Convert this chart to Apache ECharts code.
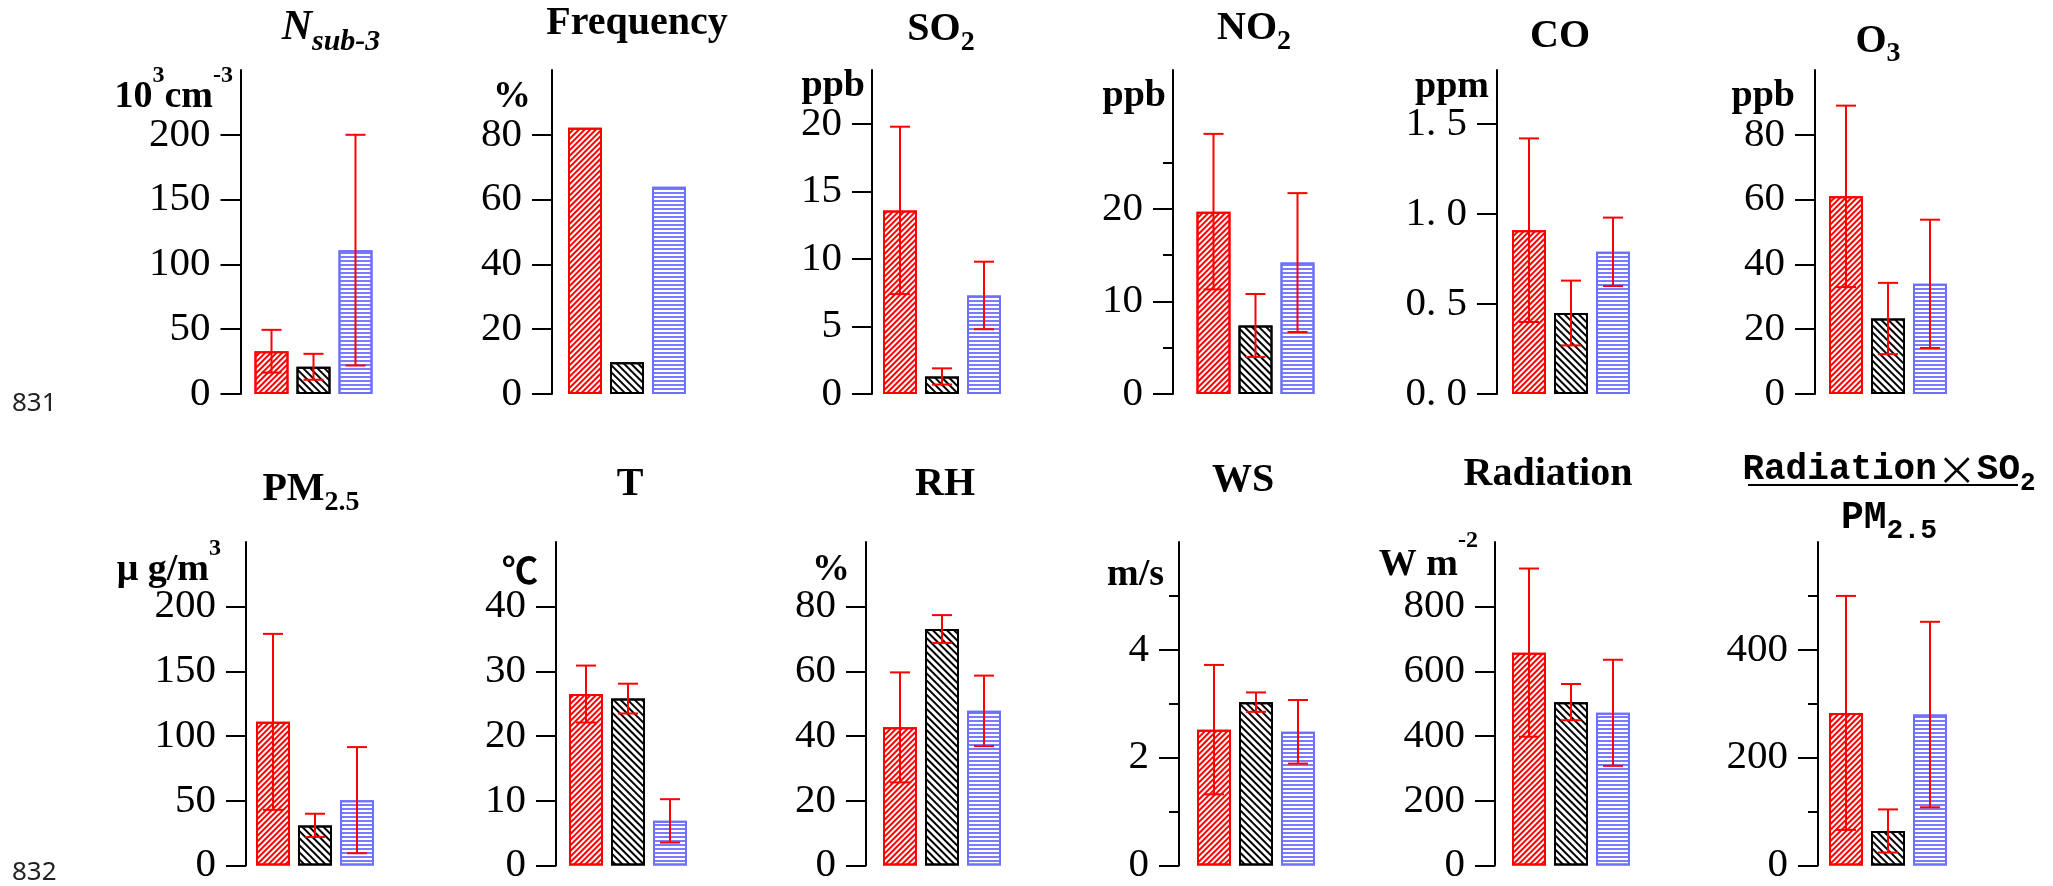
<!DOCTYPE html>
<html>
<head>
<meta charset="utf-8">
<script src="https://cdn.jsdelivr.net/npm/echarts@6/dist/echarts.min.js"></script>
<style>
  html, body { margin: 0; padding: 0; background: #fff; }
  #chart { width: 2053px; height: 886px; }
</style>
</head>
<body>
<div id="chart"></div>
<script>
// three groups shown in every panel (red / black / blue bars)
const categories = ['Group 1', 'Group 2', 'Group 3'];

// mean values and standard deviations
const nsubMean = [33, 21, 111];
const nsubSd = [16.5, 10, 89];
const freqMean = [82.2, 9.8, 64.0];
const so2Mean = [13.6, 1.3, 7.3];
const so2Sd = [6.2, 0.6, 2.5];
const no2Mean = [19.7, 7.4, 14.2];
const no2Sd = [8.4, 3.4, 7.5];
const coMean = [0.91, 0.45, 0.79];
const coSd = [0.51, 0.18, 0.19];
const o3Mean = [61, 23.3, 34];
const o3Sd = [28, 11, 19.8];
const pmMean = [111, 31, 50.5];
const pmSd = [68, 9, 41];
const tMean = [26.5, 25.8, 6.9];
const tSd = [4.4, 2.3, 3.35];
const rhMean = [42.7, 73.1, 47.8];
const rhSd = [17, 4.3, 10.9];
const wsMean = [2.52, 3.03, 2.48];
const wsSd = [1.2, 0.18, 0.59];
const radMean = [658, 505, 472];
const radSd = [260, 56, 164];
const ratioMean = [283, 64, 280];
const ratioSd = [217, 40, 172];

// tick values
const nsubTicks = [0, 50, 100, 150, 200];
const freqTicks = [0, 20, 40, 60, 80];
const so2Ticks = [0, 5, 10, 15, 20];
const no2Ticks = [0, 10, 20];
const no2Minor = [5, 15, 25];
const coTicks = [0, 0.5, 1, 1.5];
const o3Ticks = [0, 20, 40, 60, 80];
const pmTicks = [0, 50, 100, 150, 200];
const tTicks = [0, 10, 20, 30, 40];
const rhTicks = [0, 20, 40, 60, 80];
const wsTicks = [0, 2, 4];
const wsMinor = [1, 3, 5];
const radTicks = [0, 200, 400, 600, 800];
const ratioTicks = [0, 200, 400];
const ratioMinor = [100, 300, 500];

const panels = [
  { mean: nsubMean, sd: nsubSd, max: 250, ticks: nsubTicks },
  { mean: freqMean, sd: null, max: 100, ticks: freqTicks },
  { mean: so2Mean, sd: so2Sd, max: 24, ticks: so2Ticks },
  { mean: no2Mean, sd: no2Sd, max: 35, ticks: no2Ticks, minor: no2Minor },
  { mean: coMean, sd: coSd, max: 1.8, ticks: coTicks, fmt: v => v.toFixed(1).replace('.', '. ') },
  { mean: o3Mean, sd: o3Sd, max: 100, ticks: o3Ticks },
  { mean: pmMean, sd: pmSd, max: 250, ticks: pmTicks },
  { mean: tMean, sd: tSd, max: 50, ticks: tTicks },
  { mean: rhMean, sd: rhSd, max: 100, ticks: rhTicks },
  { mean: wsMean, sd: wsSd, max: 6, ticks: wsTicks, minor: wsMinor },
  { mean: radMean, sd: radSd, max: 1000, ticks: radTicks },
  { mean: ratioMean, sd: ratioSd, max: 600, ticks: ratioTicks, minor: ratioMinor }
];

// layout (pixels)
const axisX = [240.5, 552, 872, 1173, 1497, 1815, 246, 556, 866, 1179, 1495, 1818];
const barLeft = [253.5, 567, 882, 1195.5, 1511, 1828, 255, 568, 882, 1196, 1511, 1828];

const barStyles = [
  { color: '#fff', borderColor: '#ff0000', borderWidth: 2,
    decal: { symbol: 'rect', symbolSize: 1, color: '#ff0000', dashArrayX: [1, 0], dashArrayY: [2, 2], rotation: -Math.PI / 4 } },
  { color: '#fff', borderColor: '#000', borderWidth: 2,
    decal: { symbol: 'rect', symbolSize: 1, color: '#000', dashArrayX: [1, 0], dashArrayY: [2, 3], rotation: Math.PI / 4 } },
  { color: '#fff', borderColor: '#6f6fff', borderWidth: 2,
    decal: { symbol: 'rect', symbolSize: 1, color: '#7b7bff', dashArrayX: [1, 0], dashArrayY: [2, 2], rotation: 0 } }
];

function errorBar(params, api) {
  const top = api.coord([api.value(0), api.value(2)]);
  const bot = api.coord([api.value(0), api.value(1)]);
  const style = { stroke: '#ff0000', lineWidth: 2 };
  const hw = 10;
  return {
    type: 'group',
    children: [
      { type: 'line', shape: { x1: top[0], y1: top[1], x2: bot[0], y2: bot[1] }, style },
      { type: 'line', shape: { x1: top[0] - hw, y1: top[1], x2: top[0] + hw, y2: top[1] }, style },
      { type: 'line', shape: { x1: bot[0] - hw, y1: bot[1], x2: bot[0] + hw, y2: bot[1] }, style }
    ]
  };
}

const grids = [], xAxes = [], yAxes = [], series = [];
panels.forEach((p, i) => {
  const row = i < 6 ? 0 : 1;
  const top = row ? 542 : 70;
  const bottom = row ? 867 : 394;
  const left = barLeft[i] - 3;
  const offset = left - axisX[i];
  grids.push({ left: left, top: top, width: 126, height: bottom - top });
  xAxes.push({ type: 'category', gridIndex: i, data: categories, show: false });
  const yi = yAxes.length;
  yAxes.push({
    type: 'value', gridIndex: i, position: 'left', min: 0, max: p.max, offset: offset,
    axisLine: { show: true, lineStyle: { color: '#000', width: 2 } },
    axisTick: { show: true, length: 20, customValues: p.ticks, lineStyle: { color: '#000', width: 2 } },
    axisLabel: {
      customValues: p.ticks, margin: 30, color: '#000',
      fontFamily: 'Liberation Serif', fontSize: 41,
      formatter: p.fmt || (v => String(v))
    },
    splitLine: { show: false }
  });
  if (p.minor) {
    yAxes.push({
      type: 'value', gridIndex: i, position: 'left', min: 0, max: p.max, offset: offset,
      axisLine: { show: false },
      axisTick: { show: true, length: 10, customValues: p.minor, lineStyle: { color: '#000', width: 2 } },
      axisLabel: { show: false },
      splitLine: { show: false }
    });
  }
  series.push({
    type: 'bar', xAxisIndex: i, yAxisIndex: yi, barWidth: 34,
    data: p.mean.map((v, k) => ({ value: v, itemStyle: barStyles[k] }))
  });
  if (p.sd) {
    series.push({
      type: 'custom', xAxisIndex: i, yAxisIndex: yi, z: 5,
      renderItem: errorBar,
      data: p.mean.map((v, k) => [k, v - p.sd[k], v + p.sd[k]])
    });
  }
});

const serif = 'Liberation Serif, DejaVu Serif, Noto Sans CJK SC';
const rich = {
  t: { fontFamily: serif, fontWeight: 'bold', fontSize: 40, fill: '#000', verticalAlign: 'middle' },
  i: { fontFamily: serif, fontWeight: 'bold', fontStyle: 'italic', fontSize: 42, fill: '#000', verticalAlign: 'middle' },
  si: { fontFamily: serif, fontWeight: 'bold', fontStyle: 'italic', fontSize: 30, fill: '#000', verticalAlign: 'middle', padding: [29, 0, 0, 0] },
  s: { fontFamily: serif, fontWeight: 'bold', fontSize: 28, fill: '#000', verticalAlign: 'middle', padding: [25, 0, 0, 0] },
  u: { fontFamily: serif, fontWeight: 'bold', fontSize: 38, fill: '#000', verticalAlign: 'middle' },
  c: { fontFamily: 'Noto Sans CJK SC', fontWeight: 'bold', fontSize: 36, fill: '#000', verticalAlign: 'middle' },
  p: { fontFamily: serif, fontWeight: 'bold', fontSize: 24, fill: '#000', verticalAlign: 'middle', padding: [0, 0, 42, 0] },
  p2: { fontFamily: serif, fontWeight: 'bold', fontSize: 24, fill: '#000', verticalAlign: 'middle', padding: [0, 0, 48, 0] },
  m: { fontFamily: 'Liberation Mono', fontWeight: 'bold', fontSize: 36, fill: '#000', verticalAlign: 'middle' },
  x: { fontFamily: 'Noto Sans CJK SC', fontSize: 40, fill: '#000', verticalAlign: 'middle' },
  mb: { fontFamily: 'Liberation Mono', fontWeight: 'bold', fontSize: 38, fill: '#000', verticalAlign: 'middle' },
  ms: { fontFamily: 'Liberation Mono', fontWeight: 'bold', fontSize: 26, fill: '#000', verticalAlign: 'middle', padding: [27, 0, 0, 0] },
  mbs: { fontFamily: 'Liberation Mono', fontWeight: 'bold', fontSize: 28, fill: '#000', verticalAlign: 'middle', padding: [25, 0, 0, 0] }
};

// titles: [centre x, middle y, rich text]
const titles = [
  [331, 28, '{i|N}{si|sub-3}'],
  [637, 24, '{t|Frequency}'],
  [941, 30, '{t|SO}{s|2}'],
  [1254, 29, '{t|NO}{s|2}'],
  [1560, 36.5, '{t|CO}'],
  [1878, 41.5, '{t|O}{s|3}'],
  [311, 490, '{t|PM}{s|2.5}'],
  [630, 485, '{t|T}'],
  [945, 485, '{t|RH}'],
  [1243, 480.5, '{t|WS}'],
  [1548, 475, '{t|Radiation}'],
  [1889, 469.5, '{m|Radiation}{x|×}{m|SO}{ms|2}'],
  [1889, 518.5, '{mb|PM}{mbs|2.5}']
];

// units: [right x, baseline y, rich text]
const units = [
  [233, 110, '{u|10}{p|3}{u|cm}{p|-3}'],
  [531, 110, '{u|%}'],
  [865, 99, '{u|ppb}'],
  [1166, 109, '{u|ppb}'],
  [1489, 100, '{u|ppm}'],
  [1795, 109, '{u|ppb}'],
  [221, 583, '{u|μ g/m}{p|3}'],
  [538, 583, '{c|℃}'],
  [850, 583, '{u|%}'],
  [1164, 588, '{u|m/s}'],
  [1478, 578, '{u|W m}{p2|-2}']
];

const graphic = [];
titles.forEach(t => graphic.push({
  type: 'text', x: t[0], y: t[1],
  style: { text: t[2], rich: rich, align: 'center', verticalAlign: 'middle' }
}));
units.forEach(u => graphic.push({
  type: 'text', x: u[0], y: u[1] - 12.8,
  style: { text: u[2], rich: rich, align: 'right', verticalAlign: 'middle' }
}));
graphic.push({ type: 'line', shape: { x1: 1748, y1: 485, x2: 2018, y2: 485 }, style: { stroke: '#000', lineWidth: 2 } });
graphic.push({ type: 'text', x: 12, y: 403.5, style: { text: '831', fontFamily: 'Noto Sans', fontSize: 26, fill: '#222', verticalAlign: 'middle' } });
graphic.push({ type: 'text', x: 12, y: 872.5, style: { text: '832', fontFamily: 'Noto Sans', fontSize: 26, fill: '#222', verticalAlign: 'middle' } });

const chart = echarts.init(document.getElementById('chart'));
chart.setOption({
  animation: false,
  backgroundColor: '#fff',
  grid: grids,
  xAxis: xAxes,
  yAxis: yAxes,
  series: series,
  graphic: graphic
});
</script>
</body>
</html>
